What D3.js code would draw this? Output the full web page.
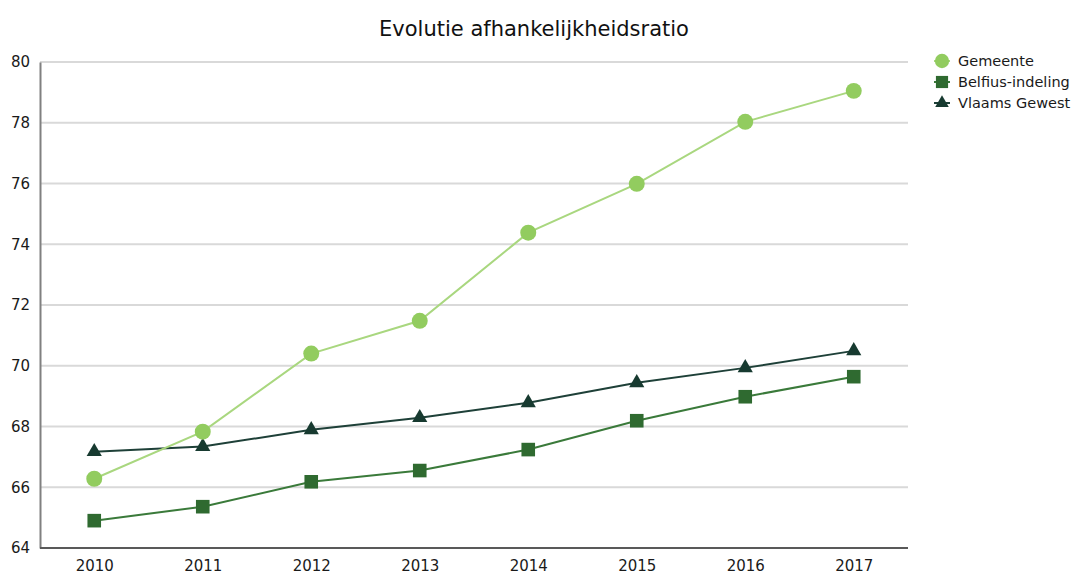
<!DOCTYPE html>
<html><head><meta charset="utf-8">
<script src="https://cdn.jsdelivr.net/npm/d3@7"></script>
<style>body{margin:0;background:#fff}svg{display:block}</style>
</head><body>
<svg id="c" width="1078" height="576"></svg>
<script>
const years = ["2010","2011","2012","2013","2014","2015","2016","2017"];
const gemeente = [66.28, 67.83, 70.4, 71.48, 74.38, 75.99, 78.03, 79.05];
const belfius = [64.9, 65.36, 66.18, 66.55, 67.24, 68.19, 68.98, 69.64];
const vlaams = [67.17, 67.34, 67.89, 68.29, 68.78, 69.44, 69.93, 70.49];
const yTicks = [64, 66, 68, 70, 72, 74, 76, 78, 80];
const seriesNames = ["Gemeente", "Belfius-indeling", "Vlaams Gewest"];

const svg = d3.select("#c");
const font = "Tahoma, 'DejaVu Sans', Verdana, sans-serif";
const L = 40, R = 908, T = 62, B = 548;
const x = d3.scalePoint().domain(years).range([L, R]).padding(0.5);
const y = d3.scaleLinear().domain([64, 80]).range([B, T]);

// grid
svg.append("g").selectAll("line").data(yTicks.filter(d => d !== 64)).join("line")
  .attr("x1", L).attr("x2", R).attr("y1", d => y(d)).attr("y2", d => y(d))
  .attr("stroke", "#d9d9d9").attr("stroke-width", 2);

// y axis
const ya = svg.append("g").attr("transform", `translate(${L},0)`)
  .call(d3.axisLeft(y).tickValues(yTicks).tickSize(0).tickPadding(10));
ya.select(".domain").attr("stroke", "#808080").attr("stroke-width", 2);
ya.selectAll("text").attr("font-family", font).attr("font-size", 15).attr("fill", "#1a1a1a");

// x axis
const xa = svg.append("g").attr("transform", `translate(0,${B})`)
  .call(d3.axisBottom(x).tickSize(0).tickPadding(12));
xa.select(".domain").attr("stroke", "#595959").attr("stroke-width", 2)
  .attr("d", `M${L},0H${R}`);
xa.selectAll("text").attr("font-family", font).attr("font-size", 15).attr("fill", "#1a1a1a");

// title
svg.append("text").attr("x", 534).attr("y", 36).attr("text-anchor", "middle")
  .attr("font-family", font).attr("font-size", 21).attr("fill", "#111")
  .text("Evolutie afhankelijkheidsratio");

const cfg = [
  {name: seriesNames[0], data: gemeente, line: "#a9d77f", fill: "#92cc5f", shape: d3.symbolCircle, size: 200},
  {name: seriesNames[1], data: belfius, line: "#3a7a3a", fill: "#2f6a30", shape: d3.symbolSquare, size: 185},
  {name: seriesNames[2], data: vlaams, line: "#1e4038", fill: "#173a30", shape: d3.symbolTriangle, size: 100}
];

const line = d3.line().x((d, i) => x(years[i])).y(d => y(d));
cfg.slice().reverse().forEach(s => {
  svg.append("path").datum(s.data).attr("d", line).attr("fill", "none")
    .attr("stroke", s.line).attr("stroke-width", 2);
  svg.append("g").selectAll("path").data(s.data).join("path")
    .attr("transform", (d, i) => `translate(${x(years[i])},${y(d)})`)
    .attr("d", d3.symbol(s.shape, s.size)).attr("fill", s.fill);
});

// legend
const lg = svg.append("g");
cfg.forEach((s, i) => {
  const yy = 61 + i * 21;
  lg.append("line").attr("x1", 934).attr("x2", 950).attr("y1", yy).attr("y2", yy)
    .attr("stroke", s.line).attr("stroke-width", 2);
  lg.append("path").attr("transform", `translate(942,${yy})`)
    .attr("d", d3.symbol(s.shape, s.size * 0.8)).attr("fill", s.fill);
  lg.append("text").attr("x", 958).attr("y", yy + 5).attr("font-family", font)
    .attr("font-size", 14.5).attr("fill", "#1a1a1a").text(s.name);
});
</script>
</body></html>
